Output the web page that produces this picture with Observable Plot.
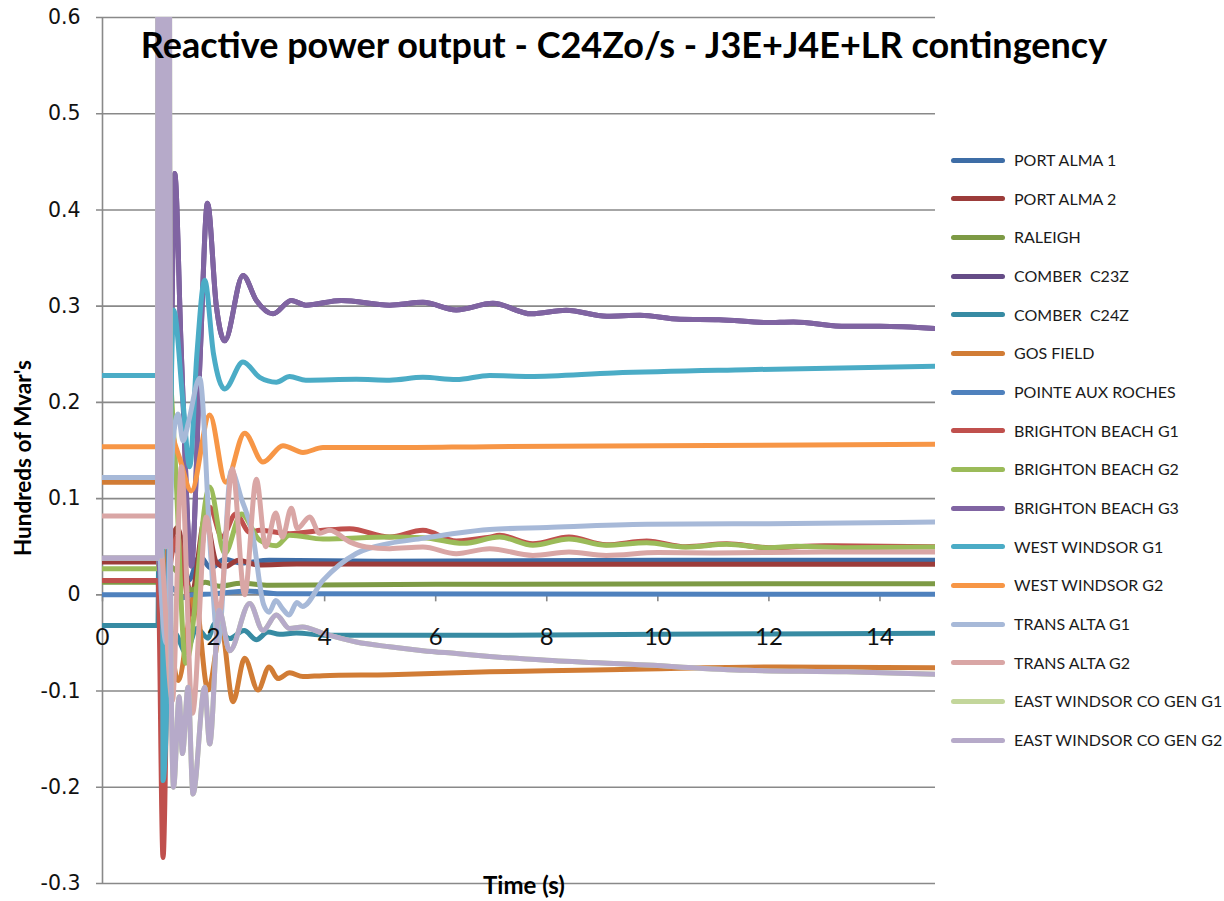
<!DOCTYPE html>
<html><head><meta charset="utf-8">
<script src="https://cdn.jsdelivr.net/npm/d3@7"></script>
<script src="https://cdn.jsdelivr.net/npm/@observablehq/plot@0.6"></script>
<style>
body{margin:0;background:#fff;}
#wrap{position:relative;width:1224px;height:901px;overflow:hidden;background:#fff;}
#wrap svg{position:absolute;left:0;top:0;}
.title{position:absolute;left:0;width:1248px;text-align:center;top:20px;font-family:Lato;font-weight:700;font-size:36px;color:#000;white-space:nowrap;line-height:48px;}
.ytitle{position:absolute;left:22px;top:458px;transform:translate(-50%,-50%) rotate(-90deg);font-family:Lato;font-weight:700;font-size:22.5px;color:#000;white-space:nowrap;}
.xtitle{position:absolute;left:524px;top:884px;transform:translate(-50%,-50%);font-family:Lato;font-weight:700;font-size:24px;color:#000;white-space:nowrap;}
.leg{position:absolute;left:951px;height:20px;font-family:Lato;font-size:16px;color:#1a1a1a;white-space:pre;}
.leg .sw{position:absolute;left:0;top:7.5px;width:54px;height:5px;border-radius:3px;}
.leg .lb{position:absolute;left:63px;top:0;line-height:20px;white-space:pre;}
</style></head><body><div id="wrap"></div>
<script>
const seriesNames = ["PORT ALMA 1","PORT ALMA 2","RALEIGH","COMBER  C23Z","COMBER  C24Z","GOS FIELD","POINTE AUX ROCHES","BRIGHTON BEACH G1","BRIGHTON BEACH G2","BRIGHTON BEACH G3","WEST WINDSOR G1","WEST WINDSOR G2","TRANS ALTA G1","TRANS ALTA G2","EAST WINDSOR CO GEN G1","EAST WINDSOR CO GEN G2"];
const seriesColors = ["#3E6DA6","#9C3C3A","#7D9A45","#654C87","#378BA3","#D17C35","#4F81BD","#C0504D","#9BBB59","#8064A2","#4BACC6","#F79646","#A7B9D8","#D9A6A5","#C3D69B","#B6AAC9"];

// [time (s), hundreds of Mvar]
const portAlma1 = [[0,0.036],[1.0,0.036],[1.06,0.02],[1.1,-0.03],[1.2,0.05],[1.35,0.045],[1.55,0.015],[1.75,0.04],[1.95,0.028],[2.2,0.037],[2.5,0.033],[3,0.036],[5,0.035],[10,0.036],[15,0.036]];
const portAlma2 = [[0,0.034],[1.0,0.034],[1.06,-0.04],[1.15,0.02],[1.35,0.07],[1.6,0.0],[1.85,0.08],[2.05,0.034],[2.2,0.029],[2.45,0.036],[2.8,0.031],[3.5,0.032],[15,0.0317]];
const raleigh = [[0,0.013],[1.0,0.013],[1.06,-0.04],[1.2,0.03],[1.4,0.02],[1.6,0.005],[1.85,0.013],[2.1,0.009],[2.5,0.012],[3,0.01],[6,0.011],[15,0.0116]];
const comberC23Z = [[0,0.038],[1.0,0.038],[1.06,0.0],[1.15,-0.05],[1.24,0.25],[1.30,0.438],[1.42,0.25],[1.6,0.03],[1.76,0.25],[1.89,0.407],[2.05,0.3],[2.2,0.264],[2.53,0.332],[2.77,0.306],[3.07,0.292],[3.4,0.306],[3.66,0.301],[4.3,0.306],[5.17,0.301],[5.77,0.304],[6.37,0.296],[7.03,0.303],[7.72,0.292],[8.35,0.2957],[9.08,0.2895],[9.68,0.2905],[10.4,0.2864],[11.1,0.286],[11.96,0.283],[12.44,0.2836],[13.4,0.279],[14.0,0.279],[15,0.2767]];
const comberC24Z = [[0,-0.032],[1.0,-0.032],[1.03,0.2],[1.06,0.3],[1.11,-0.05],[1.3,-0.04],[1.5,-0.06],[1.7,-0.035],[1.9,-0.045],[2.02,-0.030],[2.29,-0.0455],[2.55,-0.037],[2.77,-0.0466],[2.98,-0.0387],[3.19,-0.041],[3.49,-0.0397],[4,-0.042],[7,-0.042],[10,-0.041],[15,-0.040]];
const gosField = [[0,0.117],[1.0,0.117],[1.02,0.35],[1.12,0.1],[1.36,-0.089],[1.66,0.0],[1.9,-0.099],[2.14,-0.035],[2.35,-0.111],[2.56,-0.066],[2.8,-0.099],[3.0,-0.075],[3.16,-0.087],[3.37,-0.081],[3.61,-0.085],[3.97,-0.084],[5.17,-0.083],[6.97,-0.080],[8.0,-0.079],[9.8,-0.077],[12.2,-0.075],[15,-0.0757]];
const pointeAuxRoches = [[0,0.0],[1.0,0.0],[1.06,-0.02],[1.15,0.01],[1.3,0.005],[1.45,-0.003],[1.6,0.0],[2.0,0.001],[2.6,0.004],[3.2,0.001],[15,0.0005]];
const brightonG1 = [[0,0.015],[1.0,0.015],[1.09,-0.273],[1.2,0.02],[1.35,0.06],[1.6,-0.02],[1.93,0.091],[2.15,0.06],[2.4,0.084],[2.65,0.065],[2.83,0.067],[3.37,0.0636],[3.97,0.067],[4.45,0.0688],[5.17,0.060],[5.77,0.067],[6.37,0.056],[6.97,0.060],[7.15,0.0618],[7.75,0.053],[8.4,0.060],[9.07,0.052],[9.8,0.056],[10.5,0.050],[11.24,0.053],[12,0.049],[13,0.051],[15,0.050]];
const brightonG2 = [[0,0.027],[1.0,0.027],[1.06,0.1],[1.16,0.26],[1.3,0.15],[1.5,-0.071],[1.93,0.112],[2.2,0.043],[2.5,0.084],[2.83,0.0567],[3.13,0.051],[3.37,0.062],[3.97,0.058],[5.17,0.060],[5.77,0.0594],[6.5,0.0535],[7.15,0.060],[7.75,0.0515],[8.4,0.058],[9.07,0.0515],[9.8,0.054],[10.5,0.0497],[11.24,0.0525],[12,0.049],[12.5,0.0504],[13.4,0.049],[15,0.0497]];
const brightonG3 = [[0,0.038],[1.0,0.038],[1.06,0.0],[1.15,-0.05],[1.24,0.25],[1.30,0.438],[1.42,0.25],[1.6,0.03],[1.76,0.25],[1.89,0.407],[2.05,0.3],[2.2,0.264],[2.53,0.332],[2.77,0.306],[3.07,0.292],[3.4,0.306],[3.66,0.301],[4.3,0.306],[5.17,0.301],[5.77,0.304],[6.37,0.296],[7.03,0.303],[7.72,0.292],[8.35,0.2957],[9.08,0.2895],[9.68,0.2905],[10.4,0.2864],[11.1,0.286],[11.96,0.283],[12.44,0.2836],[13.4,0.279],[14.0,0.279],[15,0.2767]];
const westWindsorG1 = [[0,0.228],[1.0,0.228],[1.03,0.7],[1.07,0.7],[1.09,-0.193],[1.14,-0.15],[1.28,0.296],[1.45,0.2],[1.57,0.133],[1.70,0.25],[1.84,0.327],[2.0,0.25],[2.2,0.214],[2.53,0.242],[2.83,0.226],[3.13,0.221],[3.37,0.227],[3.66,0.223],[4.57,0.224],[5.17,0.223],[5.77,0.226],[6.37,0.2237],[6.97,0.228],[7.69,0.227],[9.2,0.2306],[11.6,0.234],[15,0.2375]];
const westWindsorG2 = [[0,0.154],[1.0,0.154],[1.05,0.154],[1.06,0.7],[1.12,0.7],[1.17,0.2],[1.25,0.17],[1.4,0.14],[1.6,0.108],[1.93,0.187],[2.22,0.117],[2.56,0.168],[2.89,0.138],[3.25,0.155],[3.61,0.148],[3.97,0.153],[5.17,0.153],[6.97,0.154],[10,0.155],[15,0.1565]];
const transAltaG1 = [[0,0.122],[1.0,0.122],[1.06,0.0],[1.15,-0.05],[1.27,0.16],[1.36,0.188],[1.45,0.16],[1.55,0.18],[1.75,0.225],[1.95,0.04],[2.08,-0.05],[2.32,0.129],[2.5,0.1],[2.7,0.064],[2.9,-0.01],[3.0,-0.018],[3.12,-0.006],[3.25,-0.015],[3.36,-0.021],[3.5,-0.008],[3.6,-0.012],[3.97,0.015],[4.57,0.043],[5.17,0.0535],[5.77,0.0587],[6.37,0.064],[6.97,0.0678],[8,0.070],[9.8,0.0733],[12,0.074],[15,0.0757]];
const transAltaG2 = [[0,0.082],[1.0,0.082],[1.06,0.05],[1.26,-0.11],[1.42,0.133],[1.62,-0.123],[1.87,0.081],[2.1,-0.02],[2.34,0.131],[2.56,0.0],[2.77,0.12],[2.94,0.05],[3.12,0.085],[3.24,0.06],[3.4,0.09],[3.51,0.069],[3.73,0.081],[3.91,0.064],[4.09,0.067],[4.45,0.055],[4.75,0.0497],[5.17,0.048],[5.77,0.0497],[6.37,0.0428],[6.97,0.048],[7.75,0.041],[8.4,0.0445],[9.07,0.041],[10,0.044],[11,0.0435],[13,0.0445],[15,0.0445]];
const eastWindsorG1 = [[0,0.038],[0.99,0.038],[1.0,1.5],[1.02,0.05],[1.04,1.5],[1.06,0.04],[1.08,1.5],[1.10,0.06],[1.12,1.5],[1.14,0.05],[1.16,1.5],[1.19,1.5],[1.21,0.5],[1.23,-0.05],[1.28,-0.2],[1.38,-0.106],[1.44,-0.165],[1.54,-0.096],[1.63,-0.207],[1.84,-0.096],[1.93,-0.155],[2.1,-0.016],[2.29,-0.058],[2.65,-0.009],[2.89,-0.037],[3.13,-0.021],[3.37,-0.035],[3.6,-0.0335],[3.97,-0.040],[4.57,-0.049],[5.17,-0.054],[5.77,-0.058],[6.37,-0.061],[6.97,-0.064],[8,-0.068],[9.8,-0.073],[11.6,-0.0785],[13.4,-0.080],[15,-0.0826]];
const eastWindsorG2 = [[0,0.038],[0.99,0.038],[1.0,1.5],[1.02,0.05],[1.04,1.5],[1.06,0.04],[1.08,1.5],[1.10,0.06],[1.12,1.5],[1.14,0.05],[1.16,1.5],[1.19,1.5],[1.21,0.5],[1.23,-0.05],[1.28,-0.2],[1.38,-0.106],[1.44,-0.165],[1.54,-0.096],[1.63,-0.207],[1.84,-0.096],[1.93,-0.155],[2.1,-0.016],[2.29,-0.058],[2.65,-0.009],[2.89,-0.037],[3.13,-0.021],[3.37,-0.035],[3.6,-0.0335],[3.97,-0.040],[4.57,-0.049],[5.17,-0.054],[5.77,-0.058],[6.37,-0.061],[6.97,-0.064],[8,-0.068],[9.8,-0.073],[11.6,-0.0785],[13.4,-0.080],[15,-0.0826]];

const seriesData = [portAlma1,portAlma2,raleigh,comberC23Z,comberC24Z,gosField,pointeAuxRoches,brightonG1,brightonG2,brightonG3,westWindsorG1,westWindsorG2,transAltaG1,transAltaG2,eastWindsorG1,eastWindsorG2];

const yTicks = [-0.3,-0.2,-0.1,0,0.1,0.2,0.3,0.4,0.5,0.6];
const yTickLabels = ["-0.3","-0.2","-0.1","0","0.1","0.2","0.3","0.4","0.5","0.6"];
const xTicks = [0,2,4,6,8,10,12,14];
const xTickLabels = ["0","2","4","6","8","10","12","14"];
const titleText = "Reactive power output - C24Zo/s - J3E+J4E+LR contingency";
const yTitle = "Hundreds of Mvar's";
const xTitle = "Time (s)";

const rows = seriesNames.flatMap((name, i) => seriesData[i].map(([t, v]) => ({name, t, v})));
const grid = "#898989";

const chart = Plot.plot({
  width: 1224, height: 901,
  marginLeft: 102, marginRight: 289, marginTop: 17, marginBottom: 18,
  x: {domain: [0, 15], axis: null},
  y: {domain: [-0.3, 0.6], axis: null},
  color: {domain: seriesNames, range: seriesColors},
  style: {background: "#fff", overflow: "visible"},
  marks: [
    Plot.ruleY(yTicks, {y: d => d, stroke: grid, strokeWidth: 1.6, insetLeft: -6}),
    Plot.ruleX([0], {x: d => d, stroke: grid, strokeWidth: 1.6}),
    Plot.ruleX(xTicks, {x: d => d, y1: () => 0, y2: () => 0, insetBottom: -7, stroke: grid, strokeWidth: 1.6}),
    Plot.line(rows, {x: "t", y: "v", z: "name", stroke: "name", strokeWidth: 5, curve: "monotone-x", clip: true, strokeLinecap: "round", strokeLinejoin: "round"}),
    Plot.text(yTicks, {y: d => d, text: (d, i) => yTickLabels[i], frameAnchor: "left", dx: -22, textAnchor: "end", fontFamily: "DejaVu Sans", fontSize: 20.5, fill: "#111"}),
    Plot.text(xTicks, {x: d => d, y: () => 0, text: (d, i) => xTickLabels[i], dy: 42, fontFamily: "Lato", fontSize: 24, fill: "#111"})
  ]
});

const wrap = document.getElementById("wrap");
wrap.appendChild(chart);

const t = document.createElement("div"); t.className = "title"; t.textContent = titleText; wrap.appendChild(t);
const yt = document.createElement("div"); yt.className = "ytitle"; yt.textContent = yTitle; wrap.appendChild(yt);
const xt = document.createElement("div"); xt.className = "xtitle"; xt.textContent = xTitle; wrap.appendChild(xt);

seriesNames.forEach((name, i) => {
  const d = document.createElement("div");
  d.className = "leg";
  d.style.top = (160 + i * 38.67 - 10) + "px";
  d.innerHTML = `<div class="sw" style="background:${seriesColors[i]}"></div><div class="lb"></div>`;
  d.querySelector(".lb").textContent = name;
  wrap.appendChild(d);
});
</script></body></html>
